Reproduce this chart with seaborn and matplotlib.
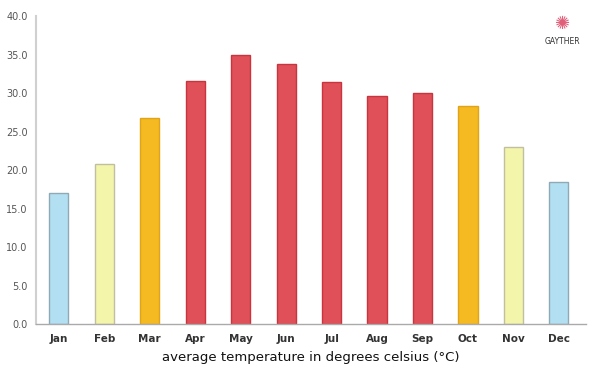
import pandas as pd
import matplotlib.pyplot as plt
import seaborn as sns

# Monatswerte
months = ['Jan', 'Feb', 'Mar', 'Apr', 'May', 'Jun', 'Jul', 'Aug', 'Sep', 'Oct', 'Nov', 'Dec']
temps = [17.0, 20.8, 26.8, 31.6, 34.9, 33.8, 31.5, 29.6, 30.0, 28.3, 23.0, 18.5]
bar_colors = ['#b2dff1', '#f3f5ab', '#f5b921', '#e05058', '#e05058', '#e05058',
              '#e05058', '#e05058', '#e05058', '#f5b921', '#f3f5ab', '#b2dff1']
edge_colors = ['#8fa9b5', '#c0c0a0', '#e0a418', '#c8353e', '#c8353e', '#c8353e',
               '#c8353e', '#c8353e', '#c8353e', '#e0a418', '#c0c0a0', '#8fa9b5']
y_ticks = [0, 5, 10, 15, 20, 25, 30, 35, 40]

df = pd.DataFrame({'month': months, 'temp': temps})

sns.set_style('white')
plt.rcParams['font.family'] = ['DejaVu Sans']

fig = plt.figure(figsize=(6, 3.75), dpi=100)
ax = fig.add_axes([0.06, 0.136, 0.917, 0.821])

sns.barplot(data=df, x='month', y='temp', hue='month', palette=bar_colors,
            legend=False, width=0.42, ax=ax, saturation=1)
for patch, ec in zip(ax.patches, edge_colors):
    patch.set_edgecolor(ec)
    patch.set_linewidth(1)

ax.set_ylim(0, 40)
ax.set_xlim(-0.5, 11.6)
ax.set_yticks(y_ticks)
ax.set_yticklabels([f'{v:.1f}' for v in y_ticks], fontsize=7, color='#555555')
ax.tick_params(axis='x', labelsize=7.5, labelcolor='#333333', length=0, pad=7)
ax.tick_params(axis='y', length=0, pad=6)
for lbl in ax.get_xticklabels():
    lbl.set_fontweight('bold')

ax.set_xlabel('average temperature in degrees celsius (°C)', fontsize=9.5,
              color='#111111', labelpad=5)
ax.set_ylabel('')

for s in ['top', 'right']:
    ax.spines[s].set_visible(False)
ax.spines['left'].set_color('#d0d0d0')
ax.spines['left'].set_linewidth(1.5)
ax.spines['bottom'].set_color('#aaaaaa')
ax.spines['bottom'].set_linewidth(1)

# Logo oben rechts
fig.text(0.938, 0.89, 'GAYTHER', ha='center', va='center', fontsize=5.5, color='#333333')
fig.text(0.938, 0.935, '✺', ha='center', va='center', fontsize=13, color='#e0607a')

plt.savefig('out.png', dpi=100)
